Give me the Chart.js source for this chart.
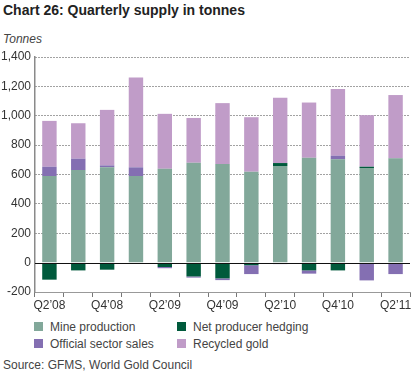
<!DOCTYPE html>
<html>
<head>
<meta charset="utf-8">
<script src="https://cdn.jsdelivr.net/npm/chart.js@4.4.1/dist/chart.umd.min.js"></script>
<style>
  html, body { margin: 0; padding: 0; background: #fff; }
  body { width: 414px; height: 374px; position: relative; overflow: hidden;
         font-family: "Liberation Sans", Arial, sans-serif; color: #444; }
  #title { position: absolute; left: 3px; top: 2px; font-size: 14px; font-weight: bold; color: #222; }
  #unit { position: absolute; left: 3px; top: 32px; font-size: 12px; font-style: italic; color: #444; }
  #wrap { position: absolute; left: 0; top: 0; width: 414px; height: 318px; }
  .lg { position: absolute; font-size: 12px; color: #444; white-space: nowrap; }
  .lg i { position: absolute; left: -16px; top: 2px; width: 9px; height: 9px; }
  #source { position: absolute; left: 3px; top: 358px; font-size: 12px; color: #444; }
</style>
</head>
<body>
<div id="title">Chart 26: Quarterly supply in tonnes</div>
<div id="unit">Tonnes</div>
<div id="wrap"><canvas id="supplyChart"></canvas></div>
<div id="legend"></div>
<div id="source">Source: GFMS, World Gold Council</div>
<script>
'use strict';

// ── Data ──────────────────────────────────────────────────────────────────────

const quarters = ['Q2’08', 'Q3’08', 'Q4’08', 'Q1’09', 'Q2’09', 'Q3’09', 'Q4’09',
                  'Q1’10', 'Q2’10', 'Q3’10', 'Q4’10', 'Q1’11', 'Q2’11'];
const mineProduction = [589, 630, 649, 589, 639, 680, 671, 619, 658, 714, 703, 644, 710];
const netHedging = [-116, -53, -48, -7, -30, -94, -107, -18, 20, -53, -53, 9, 0];
const officialSales = [64, 78, 13, 60, -8, -8, -12, -60, -10, -22, 25, -121, -78];
const recycledGold = [312, 241, 378, 611, 374, 305, 415, 371, 444, 376, 454, 351, 431];
const yTicks = [-200, 0, 200, 400, 600, 800, 1000, 1200, 1400];

const series = [
    { label: 'Mine production', data: mineProduction, color: '#82a89a' },
    { label: 'Net producer hedging', data: netHedging, color: '#005a3c' },
    { label: 'Official sector sales', data: officialSales, color: '#846fb2' },
    { label: 'Recycled gold', data: recycledGold, color: '#c09cc8' },
];

const FONT = '"Liberation Sans", Arial, sans-serif';

// ── Zero line drawn over the bars ─────────────────────────────────────────────

const zeroLine = {
    id: 'zeroLine',
    afterDatasetsDraw(chart) {
        const { ctx, chartArea, scales } = chart;
        const y = Math.round(scales.y.getPixelForValue(0)) + 0.5;
        ctx.save();
        ctx.strokeStyle = '#111';
        ctx.lineWidth = 1.2;
        ctx.beginPath();
        ctx.moveTo(chartArea.left, y);
        ctx.lineTo(chartArea.right, y);
        ctx.stroke();
        ctx.restore();
    },
};

// ── Chart ─────────────────────────────────────────────────────────────────────

new Chart(document.getElementById('supplyChart'), {
    type: 'bar',
    data: {
        labels: quarters,
        datasets: series.map(s => ({
            label: s.label,
            data: s.data,
            backgroundColor: s.color,
            borderWidth: 0,
            categoryPercentage: 1,
            barPercentage: 0.5,
        })),
    },
    options: {
        responsive: true,
        maintainAspectRatio: false,
        animation: false,
        devicePixelRatio: 1,
        layout: { padding: { top: 57, right: 4, left: 0, bottom: 0 } },
        plugins: {
            legend: { display: false },
            tooltip: { enabled: false },
        },
        scales: {
            x: {
                stacked: true,
                afterFit(scale) { scale.height = 26; },
                grid: { display: true, drawOnChartArea: false, drawTicks: true, tickLength: 5, tickColor: '#777', offset: true },
                border: { display: true, color: '#999', width: 1 },
                ticks: {
                    autoSkip: false,
                    maxRotation: 0,
                    padding: 1,
                    color: '#333',
                    font: { family: FONT, size: 12 },
                    callback(value, index) { return index % 2 === 0 ? quarters[index] : ''; },
                },
            },
            y: {
                stacked: true,
                min: yTicks[0],
                max: yTicks[yTicks.length - 1],
                afterFit(scale) { scale.width = 35; },
                afterBuildTicks(scale) { scale.ticks = yTicks.map(v => ({ value: v })); },
                grid: {
                    drawTicks: false,
                    color: ctx => (ctx.tick && ctx.tick.value <= 0) ? 'rgba(0,0,0,0)' : '#444',
                    lineWidth: 1,
                },
                border: { display: true, color: '#8a8a8a', width: 1.5, dash: [1, 2] },
                ticks: {
                    padding: 4,
                    color: '#333',
                    font: { family: FONT, size: 12 },
                    callback: v => v.toLocaleString('en-US'),
                },
            },
        },
    },
    plugins: [zeroLine],
});

// ── Legend ────────────────────────────────────────────────────────────────────

const legendPos = [[50, 320], [193, 320], [50, 337], [193, 337]];
const legendEl = document.getElementById('legend');
series.forEach((s, i) => {
    const el = document.createElement('div');
    el.className = 'lg';
    el.style.left = legendPos[i][0] + 'px';
    el.style.top = legendPos[i][1] + 'px';
    el.innerHTML = '<i style="background:' + s.color + '"></i>' + s.label;
    legendEl.appendChild(el);
});
</script>
</body>
</html>
